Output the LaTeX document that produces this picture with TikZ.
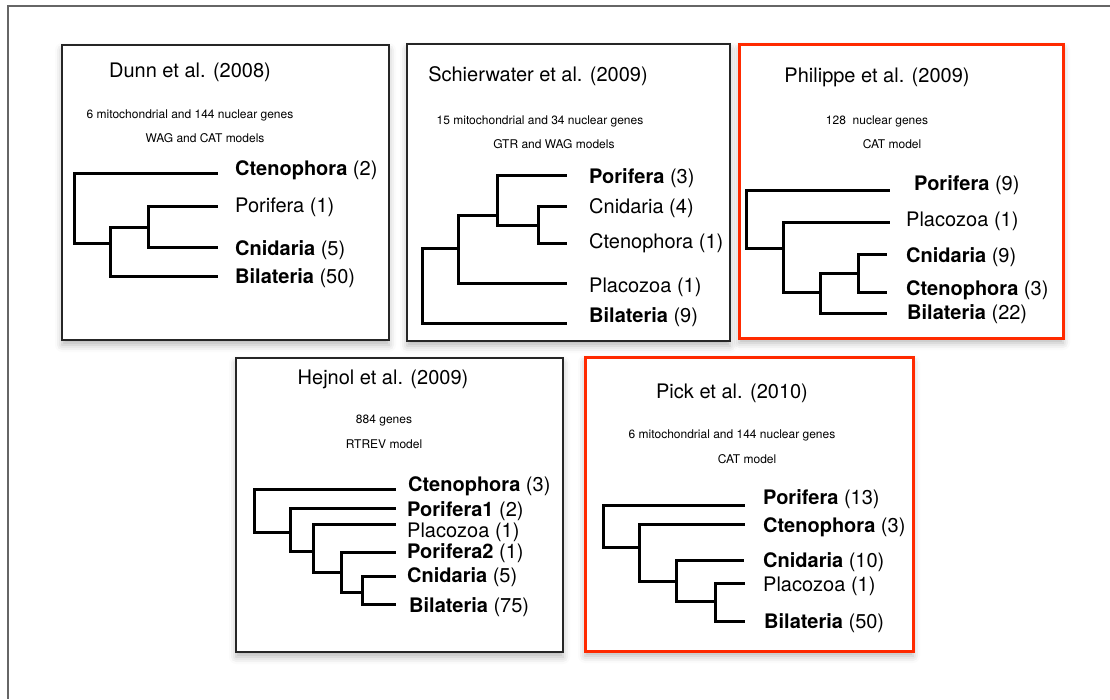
\documentclass[tikz,border=0pt]{standalone}
\usepackage{fontspec}
\setmainfont{TeX Gyre Heros}
\usepackage{xcolor}
\usepackage{tikz}
\usetikzlibrary{shadows.blur}

\definecolor{boxred}{RGB}{255,42,0}

\begin{document}
\begin{tikzpicture}[
    x=1pt, y=-1pt,
    panelbox/.style={draw=black!85, line width=1.5pt, fill=white,
        blur shadow={shadow xshift=0pt, shadow yshift=-5pt, shadow blur radius=7pt, shadow opacity=28}},
    redbox/.style={panelbox, draw=boxred, line width=3pt},
    branch/.style={black, line width=3pt, line cap=rect},
    title/.style={anchor=base, inner sep=0pt, font=\fontsize{20}{24}\selectfont},
    info/.style={anchor=base, inner sep=0pt, font=\fontsize{12}{14}\selectfont},
    taxon/.style={anchor=base west, inner sep=0pt, font=\fontsize{20}{24}\selectfont}
]

\useasboundingbox (0,0) rectangle (1110,699);

% ---------- outer frame ----------
\draw[black!60, line width=1.5pt] (1110,6) -- (8,6) -- (8,699);

% ---------- Dunn et al. (2008) ----------
\draw[panelbox] (62,45) rectangle (389,340);
\node[title] (d-title) at (190,77) {Dunn et al. (2008)};
\node[info] (d-genes) at (190,118) {6 mitochondrial and 144 nuclear genes};
\node[info] (d-model) at (205,142) {WAG and CAT models};
\node[taxon] (d-cte-lbl) at (235,175) {\textbf{Ctenophora} (2)};
\node[taxon] (d-por-lbl) at (235,212) {Porifera (1)};
\node[taxon] (d-cni-lbl) at (235,255) {\textbf{Cnidaria} (5)};
\node[taxon] (d-bil-lbl) at (235,283) {\textbf{Bilateria} (50)};
\coordinate (d-cte) at (216,173);
\coordinate (d-por) at (216,206);
\coordinate (d-cni) at (216,247);
\coordinate (d-bil) at (216,276);
\coordinate (d-r)  at (74,243);
\coordinate (d-n1) at (110,243);
\coordinate (d-n2) at (148,227);
\draw[branch] (d-cte) -| (d-r) |- (d-n1);
\draw[branch] (d-n2) -| (d-n1) |- (d-bil);
\draw[branch] (d-por) -| (d-n2) |- (d-cni);

% ---------- Schierwater et al. (2009) ----------
\draw[panelbox] (407,44) rectangle (730,341);
\node[title] (s-title) at (538,81) {Schierwater et al. (2009)};
\node[info] (s-genes) at (540,124) {15 mitochondrial and 34 nuclear genes};
\node[info] (s-model) at (554,148) {GTR and WAG models};
\node[taxon] (s-por-lbl) at (589,183) {\textbf{Porifera} (3)};
\node[taxon] (s-cni-lbl) at (589,213) {Cnidaria (4)};
\node[taxon] (s-cte-lbl) at (589,248) {Ctenophora (1)};
\node[taxon] (s-pla-lbl) at (589,292) {Placozoa (1)};
\node[taxon] (s-bil-lbl) at (589,322) {\textbf{Bilateria} (9)};
\coordinate (s-por) at (565,175);
\coordinate (s-cni) at (565,206);
\coordinate (s-cte) at (565,243);
\coordinate (s-pla) at (565,283);
\coordinate (s-bil) at (565,323);
\coordinate (s-r)  at (422,248);
\coordinate (s-n1) at (458,248);
\coordinate (s-n2) at (497,215);
\coordinate (s-n3) at (538,225);
\draw[branch] (s-n1) -| (s-r) |- (s-bil);
\draw[branch] (s-n2) -| (s-n1) |- (s-pla);
\draw[branch] (s-por) -| (s-n2) |- (s-n3);
\draw[branch] (s-cni) -| (s-n3) |- (s-cte);

% ---------- Philippe et al. (2009) ----------
\draw[redbox] (739,44) rectangle (1063,338);
\node[title] (p-title) at (877,82) {Philippe et al. (2009)};
\node[info] (p-genes) at (877,124) {128\ \ nuclear genes};
\node[info] (p-model) at (892,148) {CAT model};
\node[taxon] (p-por-lbl) at (914,190) {\textbf{Porifera} (9)};
\node[taxon] (p-pla-lbl) at (906,226) {Placozoa (1)};
\node[taxon] (p-cni-lbl) at (906,262) {\textbf{Cnidaria} (9)};
\node[taxon] (p-cte-lbl) at (906,295) {\textbf{Ctenophora} (3)};
\node[taxon] (p-bil-lbl) at (907,319) {\textbf{Bilateria} (22)};
\coordinate (p-por) at (888,190);
\coordinate (p-pla) at (888,222);
\coordinate (p-cni) at (885,254);
\coordinate (p-cte) at (885,292);
\coordinate (p-bil) at (885,313);
\coordinate (p-r)  at (746,248);
\coordinate (p-n1) at (783,248);
\coordinate (p-n2) at (820,292);
\coordinate (p-n3) at (858,273);
\draw[branch] (p-por) -| (p-r) |- (p-n1);
\draw[branch] (p-pla) -| (p-n1) |- (p-n2);
\draw[branch] (p-n3) -| (p-n2) |- (p-bil);
\draw[branch] (p-cni) -| (p-n3) |- (p-cte);

% ---------- Hejnol et al. (2009) ----------
\draw[panelbox] (236,358) rectangle (563,652);
\node[title] (h-title) at (383,384) {Hejnol et al. (2009)};
\node[info] (h-genes) at (384,423) {884 genes};
\node[info] (h-model) at (384,448) {RTREV model};
\node[taxon] (h-cte-lbl) at (408,491) {\textbf{Ctenophora} (3)};
\node[taxon] (h-po1-lbl) at (407,516) {\textbf{Porifera1} (2)};
\node[taxon] (h-pla-lbl) at (407,537) {Placozoa (1)};
\node[taxon] (h-po2-lbl) at (407,558) {\textbf{Porifera2} (1)};
\node[taxon] (h-cni-lbl) at (407,582) {\textbf{Cnidaria} (5)};
\node[taxon] (h-bil-lbl) at (409,612) {\textbf{Bilateria} (75)};
\coordinate (h-cte) at (394,489);
\coordinate (h-po1) at (394,508);
\coordinate (h-pla) at (394,524);
\coordinate (h-po2) at (394,552);
\coordinate (h-cni) at (394,576);
\coordinate (h-bil) at (394,604);
\coordinate (h-r)  at (254,532);
\coordinate (h-n1) at (290,532);
\coordinate (h-n2) at (313,551);
\coordinate (h-n3) at (341,572);
\coordinate (h-n4) at (362,592);
\draw[branch] (h-cte) -| (h-r) |- (h-n1);
\draw[branch] (h-po1) -| (h-n1) |- (h-n2);
\draw[branch] (h-pla) -| (h-n2) |- (h-n3);
\draw[branch] (h-po2) -| (h-n3) |- (h-n4);
\draw[branch] (h-cni) -| (h-n4) |- (h-bil);

% ---------- Pick et al. (2010) ----------
\draw[redbox] (585,357) rectangle (913,651);
\node[title] (k-title) at (732,398) {Pick et al. (2010)};
\node[info] (k-genes) at (732,438) {6 mitochondrial and 144 nuclear genes};
\node[info] (k-model) at (747,463) {CAT model};
\node[taxon] (k-por-lbl) at (763,504) {\textbf{Porifera} (13)};
\node[taxon] (k-cte-lbl) at (763,532) {\textbf{Ctenophora} (3)};
\node[taxon] (k-cni-lbl) at (763,567) {\textbf{Cnidaria} (10)};
\node[taxon] (k-pla-lbl) at (763,591) {Placozoa (1)};
\node[taxon] (k-bil-lbl) at (764,628) {\textbf{Bilateria} (50)};
\coordinate (k-por) at (743,505);
\coordinate (k-cte) at (743,524);
\coordinate (k-cni) at (742,560);
\coordinate (k-pla) at (743,583);
\coordinate (k-bil) at (743,621);
\coordinate (k-r)  at (603,547);
\coordinate (k-n1) at (639,547);
\coordinate (k-n2) at (676,581);
\coordinate (k-n3) at (715,601);
\draw[branch] (k-por) -| (k-r) |- (k-n1);
\draw[branch] (k-cte) -| (k-n1) |- (k-n2);
\draw[branch] (k-cni) -| (k-n2) |- (k-n3);
\draw[branch] (k-pla) -| (k-n3) |- (k-bil);

\end{tikzpicture}
\end{document}
